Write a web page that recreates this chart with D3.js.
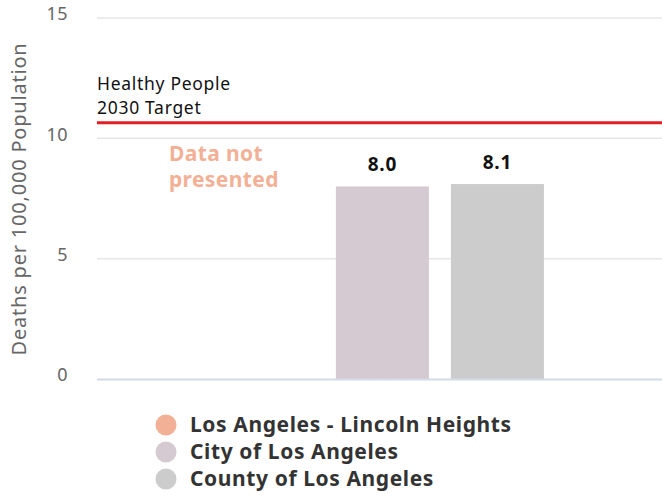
<!DOCTYPE html>
<html><head><meta charset="utf-8">
<script src="https://cdn.jsdelivr.net/npm/d3@7"></script>
<style>body{margin:0;background:#fff}svg{display:block;font-family:"Noto Sans",sans-serif}</style>
</head><body><svg id="c" width="662" height="497"></svg>
<script>
const categories = ["Los Angeles - Lincoln Heights", "City of Los Angeles", "County of Los Angeles"];
const values = [null, 8.0, 8.1];
const colors = ["#f2b197", "#d5cad2", "#cccccc"];
const yTicks = [0, 5, 10, 15];
const targetValue = 10.65;
const targetLabel = ["Healthy People", "2030 Target"];
const missingLabel = ["Data not", "presented"];
const yTitle = "Deaths per 100,000 Population";

const svg = d3.select("#c");
const y = d3.scaleLinear().domain([0, 15]).range([379, 18]);
const x = d3.scaleBand().domain(categories).range([97, 662]).paddingInner(0.191).paddingOuter(1.052).align(0.512);

// grid
svg.append("g").selectAll("line").data(yTicks.filter(d => d > 0)).join("line")
  .attr("x1", 97).attr("x2", 662).attr("y1", d => y(d)).attr("y2", d => y(d))
  .attr("stroke", "#e6e6e6").attr("stroke-width", 1.5);

const yAxis = d3.axisLeft(y).tickValues(yTicks).tickSize(0).tickPadding(0).tickFormat(d3.format("d"));
const ga = svg.append("g").attr("transform", "translate(68,0)").call(yAxis);
ga.select(".domain").remove();
ga.selectAll("text").attr("font-size", 18).attr("letter-spacing", 0.5).attr("fill", "#666").attr("font-family", "Noto Sans, sans-serif").attr("dy", "0.1em");

svg.append("text").attr("transform", "translate(26,199) rotate(-90)")
  .attr("text-anchor", "middle").attr("font-size", 20).attr("letter-spacing", 0.8).attr("fill", "#666").text(yTitle);

// bars
const data = categories.map((c, i) => ({c, v: values[i], col: colors[i]}));
svg.append("g").selectAll("rect").data(data.filter(d => d.v != null)).join("rect")
  .attr("x", d => x(d.c)).attr("width", x.bandwidth())
  .attr("y", d => y(d.v)).attr("height", d => y(0) - y(d.v)).attr("fill", d => d.col);

svg.append("g").selectAll("text").data(data.filter(d => d.v != null)).join("text")
  .attr("x", d => x(d.c) + x.bandwidth() / 2).attr("y", d => y(d.v) - 15)
  .attr("text-anchor", "middle").attr("font-weight", "bold").attr("font-size", 19).attr("letter-spacing", 0.8).attr("fill", "#111")
  .text(d => d3.format(".1f")(d.v));

// baseline
svg.append("line").attr("x1", 97).attr("x2", 662).attr("y1", y(0) + 0.5).attr("y2", y(0) + 0.5)
  .attr("stroke", "#d3dbe8").attr("stroke-width", 2);

// missing label
const miss = data.find(d => d.v == null);
const mx = x(miss.c) - 52;
const mt = svg.append("text").attr("font-weight", "bold").attr("font-size", 21).attr("letter-spacing", 0.4).attr("fill", miss.col);
missingLabel.forEach((t, i) => mt.append("tspan").attr("x", mx).attr("y", 161 + i * 26).text(t));

// target
svg.append("line").attr("x1", 97).attr("x2", 662).attr("y1", y(targetValue)).attr("y2", y(targetValue))
  .attr("stroke", "#e31e24").attr("stroke-width", 3);
const tt = svg.append("text").attr("font-size", 17.5).attr("letter-spacing", 0.7).attr("fill", "#111");
targetLabel.forEach((t, i) => tt.append("tspan").attr("x", 97).attr("y", 90 + i * 24).text(t));

// legend
const lg = svg.append("g").selectAll("g").data(data).join("g")
  .attr("transform", (d, i) => `translate(166,${425 + i * 27})`);
lg.append("circle").attr("r", 10.5).attr("fill", d => d.col);
lg.append("text").attr("x", 24).attr("dy", "0.35em").attr("font-size", 21).attr("letter-spacing", 0.6).attr("font-weight", "bold")
  .attr("fill", "#333").text(d => d.c);
</script></body></html>
